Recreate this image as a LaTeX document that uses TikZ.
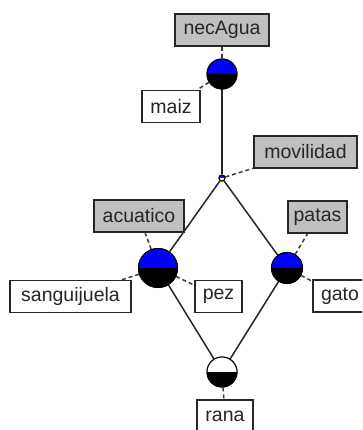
\documentclass[tikz,border=0pt]{standalone}
\usepackage{fontspec}
\setmainfont{Liberation Sans}
\definecolor{attrgray}{RGB}{192,192,192}
\definecolor{conceptblue}{RGB}{0,0,255}
\definecolor{dashgray}{RGB}{60,60,60}
\begin{document}
\begin{tikzpicture}[x=1pt,y=-1pt,
  lbl/.style={draw=black!85, line width=1.5pt, inner sep=0pt, minimum height=32pt,
    font=\fontsize{19.5}{19.5}\selectfont, text=black!85},
  attr/.style={lbl, fill=attrgray},
  obj/.style={lbl, fill=white},
  concept/.style={circle, draw=black, line width=1pt, inner sep=0pt, minimum size=#1},
  edge/.style={draw=black!85, line width=1.5pt},
  tie/.style={draw=dashgray, line width=1.5pt, dash pattern=on 4pt off 3pt}
]
\useasboundingbox (0,0) rectangle (362,430);
\clip (0,0) rectangle (362,430);
\fill[white] (0,0) rectangle (362,430);

% concepts of the lattice
\node[concept=30pt] (cA) at (222,74) {};
\node[concept=6pt]  (cM) at (222,178) {};
\node[concept=39pt] (cQ) at (158,268) {};
\node[concept=31pt] (cP) at (287,268) {};
\node[concept=30pt] (cR) at (222,372) {};

% labels: attributes (gray) and objects (white)
\node[attr, minimum width=94pt]  (lNec)  at (222,30)    {necAgua};
\node[obj,  minimum width=58pt]  (lMaiz) at (171,106.5) {maiz};
\node[attr, minimum width=103pt] (lMov)  at (305.5,152) {movilidad};
\node[attr, minimum width=90pt]  (lAcu)  at (139,216)   {acuatico};
\node[attr, minimum width=59pt]  (lPat)  at (317.5,217) {patas};
\node[obj,  minimum width=121pt] (lSan)  at (70.5,296.5){sanguijuela};
\node[obj,  minimum width=47pt]  (lPez)  at (218.5,296.5){pez};
\node[obj,  minimum width=54pt]  (lGat)  at (340,296)   {gato};
\node[obj,  minimum width=56pt]  (lRan)  at (225,416)   {rana};

% dashed ties from concepts to their labels
\draw[tie] (cA) -- (lNec);
\draw[tie] (cA) -- (lMaiz);
\draw[tie] (cM) -- (lMov);
\draw[tie] (cQ) -- (lAcu);
\draw[tie] (cQ) -- (lSan);
\draw[tie] (cQ) -- (lPez);
\draw[tie] (cP) -- (lPat);
\draw[tie] (cP) -- (lGat);
\draw[tie] (cR) -- (lRan);

% lattice edges
\draw[edge] (cA) -- (cM);
\draw[edge] (cM) -- (cQ);
\draw[edge] (cM) -- (cP);
\draw[edge] (cQ) -- (cR);
\draw[edge] (cP) -- (cR);

% half-filled concept discs (y axis points down, so the upper half runs 0 to -180)
\foreach \n/\r/\top in {cA/15/conceptblue, cQ/19.5/conceptblue, cP/15.5/conceptblue, cR/15/white}{
  \fill[\top] (\n.center) ++(\r,0) arc[start angle=0, end angle=-180, radius=\r] -- cycle;
  \fill[black] (\n.center) ++(-\r,0) arc[start angle=180, end angle=0, radius=\r] -- cycle;
  \draw[black, line width=1pt] (\n.center) circle[radius=\r];
}
% small concept: blue upper half, white lower half
\fill[conceptblue] (cM.center) ++(3,0) arc[start angle=0, end angle=-180, radius=3] -- cycle;
\fill[white] (cM.center) ++(-3,0) arc[start angle=180, end angle=0, radius=3] -- cycle;
\draw[black, line width=1pt] (cM.center) circle[radius=3];
\end{tikzpicture}
\end{document}
